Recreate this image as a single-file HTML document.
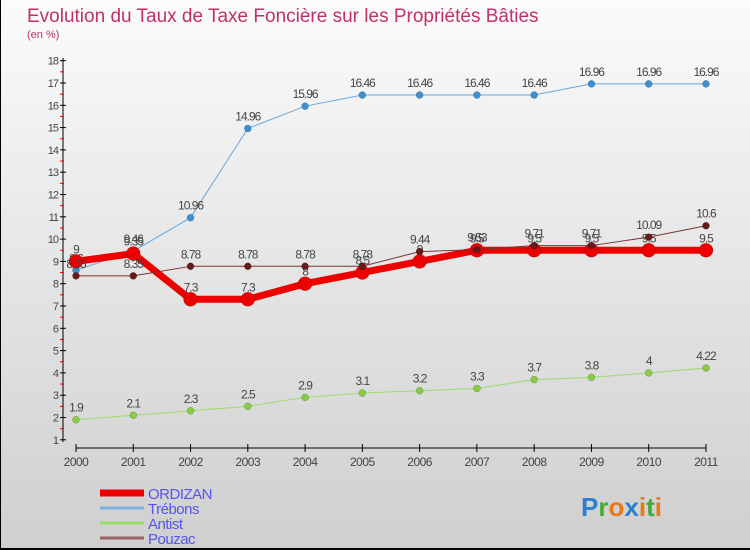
<!DOCTYPE html>
<html><head><meta charset="utf-8"><style>
body{margin:0;padding:0}
#wrap{width:750px;height:550px;position:relative;overflow:hidden;background:linear-gradient(#fbfbfb,#cfcfcf);box-sizing:border-box;border-left:1px solid #000;border-bottom:2px solid #000;font-family:"Liberation Sans",sans-serif}
svg text{font-family:"Liberation Sans",sans-serif}
</style></head><body>
<div id="wrap">
<svg id="s" width="750" height="550">
<text x="26" y="22" font-size="19" fill="#c0306a">Evolution du Taux de Taxe Foncière sur les Propriétés Bâties</text>
<text x="26" y="38" font-size="11" fill="#c0306a">(en %)</text>
</svg>
</div>
<script>
const years=[2000,2001,2002,2003,2004,2005,2006,2007,2008,2009,2010,2011];
const yTicks=[1,2,3,4,5,6,7,8,9,10,11,12,13,14,15,16,17,18];
const ordizan=[9,9.35,7.3,7.3,8,8.5,9,9.5,9.5,9.5,9.5,9.5];
const trebons=[8.6,9.46,10.96,14.96,15.96,16.46,16.46,16.46,16.46,16.96,16.96,16.96];
const antist=[1.9,2.1,2.3,2.5,2.9,3.1,3.2,3.3,3.7,3.8,4,4.22];
const pouzac=[8.35,8.35,8.78,8.78,8.78,8.78,9.44,9.53,9.71,9.71,10.09,10.6];
const NS='http://www.w3.org/2000/svg',svg=document.getElementById('s');
const X=i=>75+i*57.27, Y=v=>60.7+(18-v)*22.3;
function mk(t,a,p){const e=document.createElementNS(NS,t);for(const k in a)e.setAttribute(k,a[k]);(p||svg).appendChild(e);return e;}
let ax=mk('line',{x1:62,y1:58,x2:62,y2:442,stroke:'#000'});

yTicks.forEach(v=>{mk('line',{x1:59,x2:65,y1:Y(v),y2:Y(v),stroke:'#000'});
 if(v<18)mk('line',{x1:59,x2:63,y1:Y(v+0.5),y2:Y(v+0.5),stroke:'#e00'});
 const t=mk('text',{x:57,y:Y(v)+4,'font-size':11,fill:'#444','text-anchor':'end','letter-spacing':'-1'});t.textContent=v;
 });
let xa=mk('line',{x1:75,y1:448,x2:705,y2:448,stroke:'#000'});

years.forEach((y,i)=>{mk('line',{x1:X(i),x2:X(i),y1:444,y2:452,stroke:'#000'});
 const t=mk('text',{x:X(i),y:466,'font-size':12,fill:'#444','text-anchor':'middle','letter-spacing':'-0.5'});t.textContent=y;
 });
function series(d,name,col,w,r,dot){
 const g=mk('g',{});
 mk('polyline',{points:d.map((v,i)=>X(i)+','+Y(v)).join(' '),fill:'none',stroke:col,'stroke-width':w,'stroke-linejoin':'round'},g);
 d.forEach((v,i)=>{const c=mk('circle',{cx:X(i),cy:Y(v),r:r,fill:dot,stroke:'rgba(0,0,0,0.3)','stroke-width':0.5},g);
  
  const t=mk('text',{x:X(i),y:Y(v)-8,'font-size':12,fill:'#444','text-anchor':'middle','letter-spacing':'-1'},g);t.textContent=v;});
}
series(antist,'antist','#99dd66',1,3.5,'#88cc44');
series(trebons,'trebons','#6aa6dd',1,3.5,'#3d8fd0');
series(ordizan,'ordizan','#ee0000',7,7,'#ee0000');
series(pouzac,'pouzac','#7a3333',1,3.5,'#661a1a');
const leg=[['ORDIZAN','#ee0000',7,493],['Trébons','#7ab0dd',3,508],['Antist','#99dd66',3,523],['Pouzac','#996666',3,538]];
leg.forEach(l=>{const g=mk('g',{});
 mk('line',{x1:99,x2:143,y1:l[3],y2:l[3],stroke:l[1],'stroke-width':l[2]},g);
 const t=mk('text',{x:147,y:l[3]+6,'font-size':15,fill:'#5555ee','letter-spacing':'-0.5'},g);t.textContent=l[0];});
const lg=mk('text',{x:580,y:516,'font-size':26,'font-weight':'bold'});
[['P','#2a7fd0'],['r','#44aa33'],['o','#ee7711'],['x','#2a7fd0'],['i','#ee7711'],['t','#44aa33'],['i','#ee7711']].forEach(c=>{const s=mk('tspan',{fill:c[1]},lg);s.textContent=c[0];});
</script>
</body></html>
